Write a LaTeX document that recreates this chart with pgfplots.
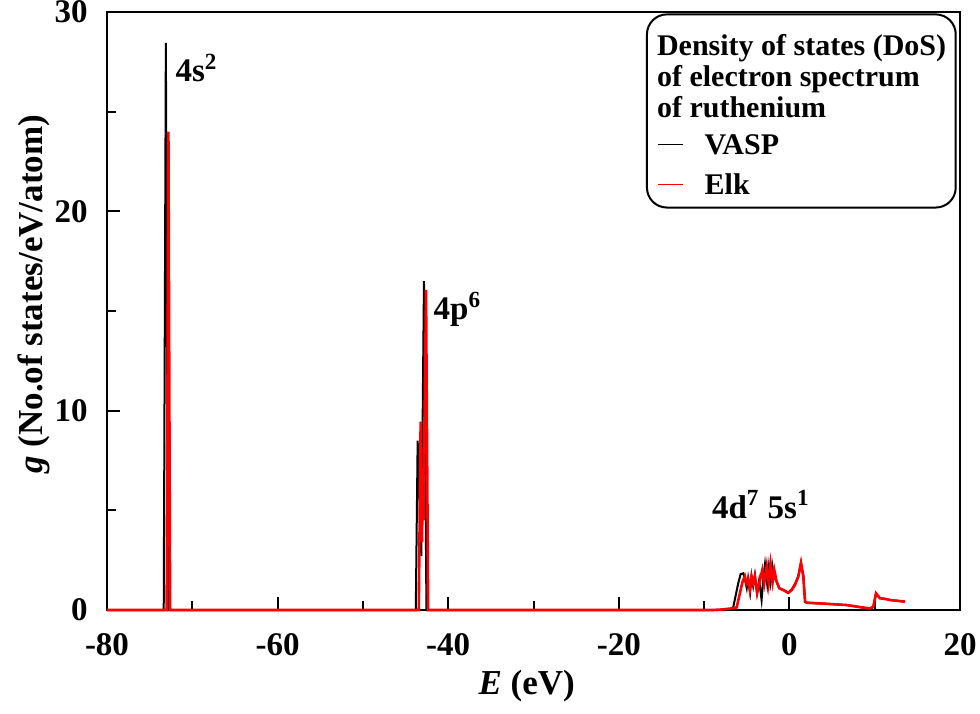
\documentclass[border=0pt]{standalone}
\usepackage{fontspec}
\setmainfont{Liberation Serif}
\usepackage{pgfplots}
\pgfplotsset{compat=1.18}
\usetikzlibrary{calc}
\begin{document}
\begin{tikzpicture}
\begin{axis}[
  scale only axis, width=426.5pt, height=299pt,
  xmin=-80, xmax=20, ymin=0, ymax=30,
  xtick={-80,-60,-40,-20,0,20}, ytick={0,10,20,30},
  minor x tick num=1, minor y tick num=1,
  tick align=inside, tick pos=left,
  major tick length=6.5pt, minor tick length=4.7pt,
  axis line style={line width=1.2pt},
  tick style={black, line width=1pt},
  /pgf/number format/assume math mode=true,
  tick label style={font=\fontsize{16.5}{18}\selectfont\bfseries, inner sep=0pt},
  xticklabel shift=11.5pt, yticklabel shift=9.5pt,
  xlabel={\textit{E} (eV)},
  ylabel={\textit{g} (No.of states/eV/atom)},
  label style={font=\fontsize{17.5}{20}\selectfont\bfseries},
  xlabel style={at={(axis description cs:0.492,-0.142)}, anchor=base},
  ylabel style={at={(axis description cs:-0.076,0.528)}, anchor=base},
  clip=false,
  legend style={at={(rel axis cs:0.6444,0.7994)}, anchor=north west, draw=none, fill=none,
    inner sep=0pt, row sep=6pt, column sep=10.5pt, font=\fontsize{15}{18}\selectfont\bfseries,
    nodes={inner sep=0pt, text height=11pt, text depth=3pt}},
  legend cell align=left,
  legend image code/.code={\draw[#1, line width=0.8pt] (0pt,1pt) -- (12.5pt,1pt);},
]
\addplot[black, line width=1pt] coordinates {
(-80,0) (-73.35,0) (-73.1,28.45) (-72.85,0)
(-43.8,0) (-43.58,8.5) (-43.15,2.7) (-42.84,16.5) (-42.55,0)
(-7.5,0) (-6.8,0.05) (-6.58,0.15) (-6.0,1.34) (-5.72,1.8) (-5.4,1.84)
(-5.2,1.5) (-5.0,1.1) (-4.84,1.6) (-4.6,0.9) (-4.44,1.7) (-4.25,1.2)
(-4.05,1.75) (-3.8,0.9) (-3.55,1.5) (-3.26,0.5) (-3.05,1.6) (-2.86,2.3)
(-2.6,1.3) (-2.4,2.2) (-2.2,1.4) (-2.0,2.2) (-1.8,1.6) (-1.55,1.5)
(-1.2,1.1) (-0.7,1.0) (-0.15,0.85) (0.3,1.05) (0.7,1.35) (1.05,1.7)
(1.35,2.35) (1.65,1.7) (1.85,0.4) (2.1,0.35) (3.6,0.33) (6.7,0.25)
(7.9,0.17) (9.45,0.05) (9.85,0.15) (10.15,0.8) (10.6,0.6) (11.4,0.55)
(11.8,0.5) (13.55,0.42)
};
\addlegendentry{VASP}
\addplot[red, line width=1.3pt] coordinates {
(-80,0) (-73.0,0) (-72.8,24.0) (-72.6,0)
(-43.45,0) (-43.23,9.45) (-43.07,3.4) (-42.98,7.0) (-42.9,4.5) (-42.6,16.06) (-42.35,0)
(-9,0) (-7.8,0.03) (-6.8,0.08) (-6.18,0.13) (-5.72,1.0) (-5.49,1.42)
(-5.22,1.7) (-5.03,1.34) (-4.84,1.54) (-4.64,1.0) (-4.44,1.67) (-4.25,1.34)
(-4.05,1.7) (-3.78,0.84) (-3.45,1.5) (-3.18,2.0) (-2.95,1.34) (-2.66,2.2)
(-2.43,1.34) (-2.2,2.3) (-1.96,1.42) (-1.77,2.0) (-1.5,1.42) (-1.18,1.09)
(-0.71,1.0) (-0.13,0.87) (0.27,1.0) (0.65,1.25) (1.04,1.67) (1.36,2.37)
(1.63,1.67) (1.83,0.42) (2.03,0.37) (3.6,0.33) (6.7,0.25) (7.9,0.17)
(9.45,0.08) (9.84,0.17) (10.15,0.84) (10.62,0.59) (11.4,0.54) (11.8,0.5)
(13.55,0.42)
};
\addlegendentry{Elk}
\node[anchor=base west, font=\fontsize{16.5}{18}\selectfont\bfseries, inner sep=0pt] at (axis cs:-72.0,26.5) {4s\textsuperscript{2}};
\node[anchor=base west, font=\fontsize{16.5}{18}\selectfont\bfseries, inner sep=0pt] at (axis cs:-41.75,14.55) {4p\textsuperscript{6}};
\node[anchor=base west, font=\fontsize{16.5}{18}\selectfont\bfseries, inner sep=0pt] at (axis cs:-9.11,4.6) {4d\textsuperscript{7} 5s\textsuperscript{1}};
\draw[rounded corners=10pt, line width=1pt] (rel axis cs:0.633,0.673) rectangle (rel axis cs:0.995,0.996);
\node[anchor=base west, align=left, inner sep=0pt, font=\fontsize{15}{15.5}\selectfont\bfseries] at (rel axis cs:0.6444,0.8244) {Density of states (DoS)\\of electron spectrum\\of ruthenium};
\coordinate (SW) at (rel axis cs:0,0);
\coordinate (NE) at (rel axis cs:1,1);
\end{axis}
\pgfresetboundingbox
\path[use as bounding box] ($(SW)+(-53.5pt,-51.5pt)$) rectangle ($(NE)+(10pt,6pt)$);
\end{tikzpicture}
\end{document}
